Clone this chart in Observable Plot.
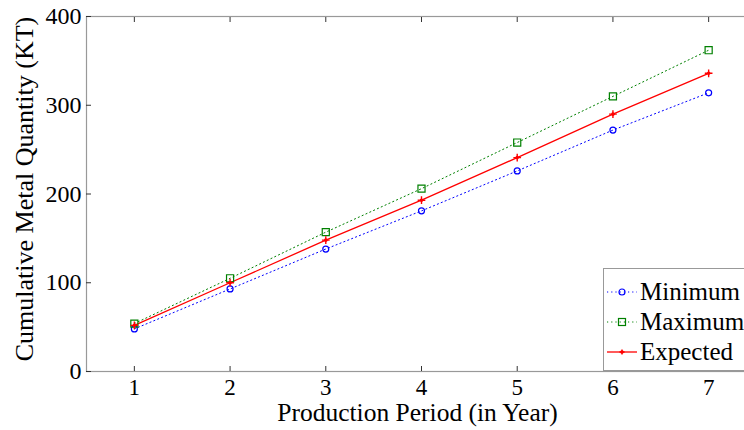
<!DOCTYPE html>
<html>
<head>
<meta charset="utf-8">
<script src="https://cdn.jsdelivr.net/npm/d3@7"></script>
<script src="https://cdn.jsdelivr.net/npm/@observablehq/plot@0.6"></script>
<style>
  html, body { margin: 0; padding: 0; background: #fff; overflow: hidden; }
  #wrap { position: relative; width: 744px; height: 430px; }
  #wrap svg text { font-family: "Liberation Serif", "Times New Roman", serif; }
  #legend { position: absolute; left: 603px; top: 268px; width: 160px; height: 101px;
    border: 1px solid #999; background: #fff; font-family: "Liberation Serif", "Times New Roman", serif; font-size: 25px; color: #000; }
  #legend .row { position: absolute; left: 0; height: 30px; display: flex; align-items: center; }
  #legend svg { display: block; margin-left: 3px; margin-right: 3px; }
</style>
</head>
<body>
<div id="wrap"></div>
<script>
const periods = [1, 2, 3, 4, 5, 6, 7];
const minimum = [48, 93, 138, 181, 226, 272, 314];
const maximum = [54, 105, 157, 206, 258, 310, 362];
const expected = [52, 100, 148, 193, 241, 290, 336];
const xTicks = [1, 2, 3, 4, 5, 6, 7];
const yTicks = [0, 100, 200, 300, 400];
const seriesNames = ["Minimum", "Maximum", "Expected"];
const xTitle = "Production Period (in Year)";
const yTitle = "Cumulative Metal Quantity (KT)";

const rows = (vals) => periods.map((p, i) => ({period: p, value: vals[i]}));
const minData = rows(minimum), maxData = rows(maximum), expData = rows(expected);

const font = "'Liberation Serif', 'Times New Roman', serif";
const chart = Plot.plot({
  width: 744,
  height: 430,
  marginLeft: 86,
  marginTop: 16,
  marginBottom: 59,
  marginRight: -12,
  style: {fontFamily: font, fontSize: "23px", color: "#000", background: "#fff", overflow: "hidden"},
  x: {domain: [0.5, 7.5]},
  y: {domain: [0, 400]},
  marks: [
    Plot.frame({stroke: "#999", strokeWidth: 1.2}),
    Plot.axisX(xTicks, {anchor: "bottom", tickSize: -5, tickPadding: 12, stroke: "#333", label: null, fontSize: 23, fontFamily: font}),
    Plot.axisX(xTicks, {anchor: "top", tickSize: -5, tickFormat: () => "", stroke: "#333", label: null}),
    Plot.axisY(yTicks, {anchor: "left", tickSize: -5, tickPadding: 10, stroke: "#333", label: null, fontSize: 24, fontFamily: font}),
    Plot.axisY(yTicks, {anchor: "right", tickSize: -5, tickFormat: () => "", stroke: "#333", label: null}),
    Plot.line(minData, {x: "period", y: "value", stroke: "#0000ff", strokeWidth: 1, strokeDasharray: "1.2,3"}),
    Plot.line(maxData, {x: "period", y: "value", stroke: "#008000", strokeWidth: 1, strokeDasharray: "1.2,3"}),
    Plot.line(expData, {x: "period", y: "value", stroke: "#ff0000", strokeWidth: 1.3}),
    Plot.dot(minData, {x: "period", y: "value", symbol: "circle", r: 3, stroke: "#0000ff", strokeWidth: 1.2, fill: "none"}),
    Plot.dot(maxData, {x: "period", y: "value", symbol: "square", r: 4, stroke: "#008000", strokeWidth: 1.2, fill: "none"}),
    Plot.dot(expData, {x: "period", y: "value", symbol: "plus", r: 2.6, stroke: "#ff0000", strokeWidth: 1.4}),
    Plot.dot(expData, {x: "period", y: "value", symbol: "circle", r: 1.8, fill: "#ff0000"}),
    Plot.text([xTitle], {frameAnchor: "bottom", dx: -4, dy: 49, fontSize: 25.5, fill: "#000", fontFamily: font}),
    Plot.text([yTitle], {frameAnchor: "left", textAnchor: "middle", dx: -62, dy: -5, rotate: -90, fontSize: 26, fill: "#000", fontFamily: font})
  ]
});
const wrap = document.getElementById("wrap");
wrap.appendChild(chart);

// legend
const legend = document.createElement("div");
legend.id = "legend";
const styles = [
  {color: "#0000ff", dash: "1.2,3", marker: "circle"},
  {color: "#008000", dash: "1.2,3", marker: "square"},
  {color: "#ff0000", dash: null, marker: "plus"}
];
seriesNames.forEach((name, i) => {
  const s = styles[i];
  const row = document.createElement("div");
  row.className = "row";
  row.style.top = (8 + i * 30) + "px";
  let marker = "";
  if (s.marker === "circle") marker = `<circle cx="15" cy="8" r="3" fill="none" stroke="${s.color}" stroke-width="1.2"/>`;
  if (s.marker === "square") marker = `<rect x="11.5" y="4.5" width="7" height="7" fill="none" stroke="${s.color}" stroke-width="1.2"/>`;
  if (s.marker === "plus") marker = `<path d="M12.4,8H17.6M15,5.4V10.6" stroke="${s.color}" stroke-width="1.4"/><circle cx="15" cy="8" r="1.8" fill="${s.color}"/>`;
  row.innerHTML = `<svg width="30" height="16"><line x1="0" y1="8" x2="30" y2="8" stroke="${s.color}" stroke-width="${s.dash ? 1 : 1.3}" ${s.dash ? `stroke-dasharray="${s.dash}"` : ""}/>${marker}</svg><span>${name}</span>`;
  legend.appendChild(row);
});
wrap.appendChild(legend);
</script>
</body>
</html>
